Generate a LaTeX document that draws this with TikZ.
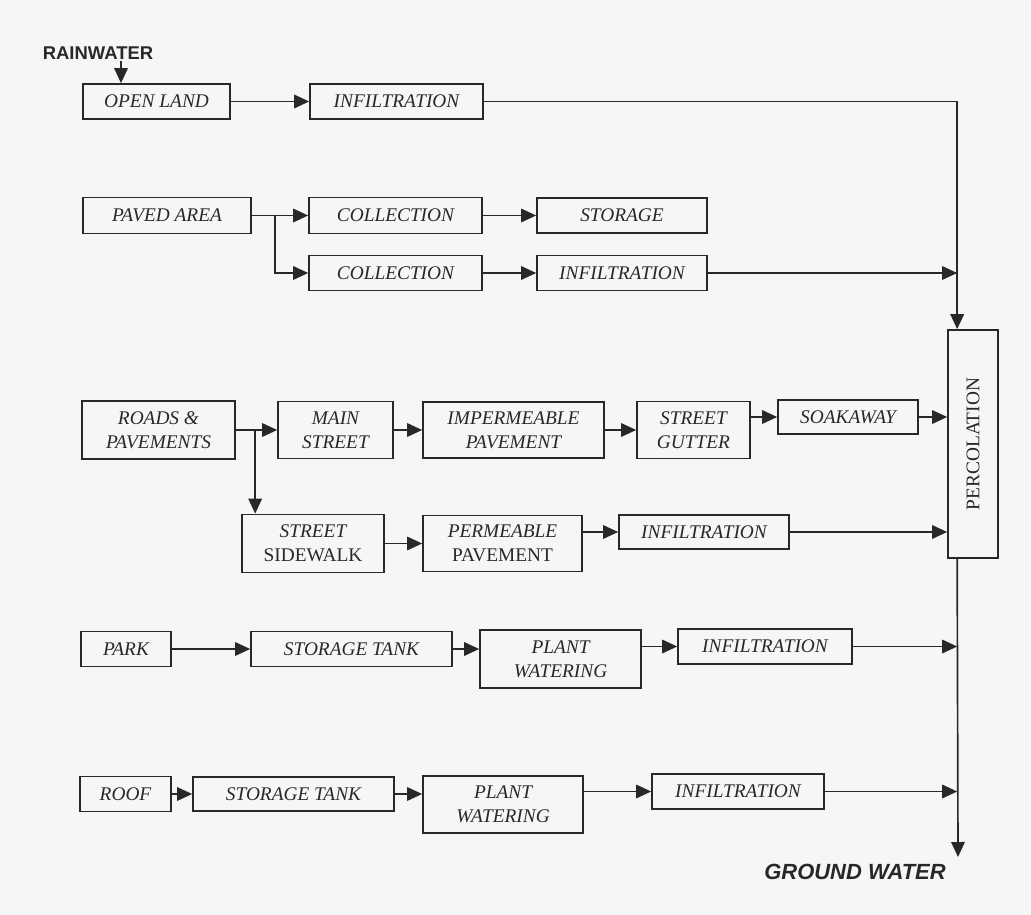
\documentclass[tikz,border=0pt]{standalone}
\usepackage{fontspec}
\setmainfont{Liberation Serif}
\setsansfont{Liberation Sans}
\usetikzlibrary{arrows.meta,calc}
\definecolor{inkgray}{RGB}{40,40,40}
\definecolor{paper}{RGB}{246,245,248}

\tikzset{
  box/.style={draw=inkgray, line width=0.95pt, text=inkgray, align=center, inner sep=1pt,
    font=\fontsize{11}{13.5}\selectfont\itshape},
  sz/.style 2 args={minimum width=#1*0.02cm, minimum height=#2*0.02cm},
  arr/.style={draw=inkgray, line width=0.95pt, -{Triangle[length=0.3cm,width=0.27cm]}},
}

\begin{document}
\begin{tikzpicture}[x=0.02cm, y=-0.02cm]
\fill[paper] (0,0) rectangle (1031,915);

% labels
\node[font=\sffamily\bfseries\fontsize{10.5}{12}\selectfont, text=inkgray, inner sep=1pt] (rain) at (98,53) {RAINWATER};
\node[font=\sffamily\bfseries\itshape\fontsize{12.5}{14}\selectfont, text=inkgray] (gw) at (855,872) {GROUND WATER};

% open land and paved area
\node[box, sz={147}{35}] (open) at (156.5,101.5) {OPEN LAND};
\node[box, sz={173}{35}] (inf1) at (396.5,101.5) {INFILTRATION};
\node[box, sz={168}{36}] (paved) at (167,215.5) {PAVED AREA};
\node[box, sz={173}{36}] (col1) at (395.5,215.5) {COLLECTION};
\node[box, sz={173}{35}] (col2) at (395.5,273) {COLLECTION};
\node[box, sz={170}{35}] (stor) at (622,215.5) {STORAGE};
\node[box, sz={170}{35}] (inf2) at (622,273) {INFILTRATION};

% roads and pavements
\node[box, sz={153}{58}] (roads) at (158.5,430) {ROADS \&\\PAVEMENTS};
\node[box, sz={115}{57}] (main) at (335.5,430) {MAIN\\STREET};
\node[box, sz={181}{56}] (imper) at (513.5,430) {IMPERMEABLE\\PAVEMENT};
\node[box, sz={113}{57}] (gutter) at (693.5,430) {STREET\\GUTTER};
\node[box, sz={140}{34}] (soak) at (848,417) {SOAKAWAY};
\node[box, sz={142}{58}] (side) at (313,543.5) {STREET\\\upshape SIDEWALK};
\node[box, sz={159}{56}] (perm) at (502.5,543.5) {PERMEABLE\\\upshape PAVEMENT};
\node[box, sz={170}{34}] (inf3) at (704,532) {INFILTRATION};

% percolation
\node[box, sz={50}{228}, font=\fontsize{11}{13}\selectfont] (perc) at (973,444) {\rotatebox{90}{PERCOLATION}};

% park and roof
\node[box, sz={90}{35}] (park) at (126,649) {PARK};
\node[box, sz={201}{35}] (tank1) at (351.5,649) {STORAGE TANK};
\node[box, sz={161}{58}] (plant1) at (560.5,659) {PLANT\\WATERING};
\node[box, sz={174}{35}] (inf4) at (765,646.5) {INFILTRATION};
\node[box, sz={91}{35}] (roof) at (125.5,794) {ROOF};
\node[box, sz={201}{34}] (tank2) at (293.5,794) {STORAGE TANK};
\node[box, sz={160}{57}] (plant2) at (503,804.5) {PLANT\\WATERING};
\node[box, sz={172}{35}] (inf5) at (738,791.5) {INFILTRATION};

\coordinate (rainin) at ([xshift=-0.71cm]open.north);
\coordinate (bus) at ([xshift=0.2cm]perc.north west);
\coordinate (busend) at (958,857);

% connectors
\draw[arr] (rain.south -| rainin) -- (rainin);
\draw[arr] (open) -- (inf1);
\draw[arr] (inf1.east) -| (bus);
\draw[arr] (paved) -- (col1);
\draw[arr] ([xshift=-0.66cm]col1.west) |- (col2);
\draw[arr] (col1) -- (stor);
\draw[arr] (col2) -- (inf2);
\draw[arr] (inf2) -- (inf2 -| bus);

\draw[arr] (roads) -- (main);
\draw[arr] ([xshift=-0.44cm]main.west) -- ([xshift=-0.44cm]main.west |- side.north);
\draw[arr] (main) -- (imper);
\draw[arr] (imper) -- (gutter);
\draw[arr] (gutter.east |- soak) -- (soak);
\draw[arr] (soak) -- (soak -| perc.west);
\draw[arr] (side) -- (perm);
\draw[arr] (perm.east |- inf3) -- (inf3);
\draw[arr] (inf3) -- (inf3 -| perc.west);

\draw[arr] (park) -- (tank1);
\draw[arr] (tank1) -- (plant1.west |- tank1);
\draw[arr] (plant1.east |- inf4) -- (inf4);
\draw[arr] (inf4) -- (inf4 -| bus);
\draw[arr] (roof) -- (tank2);
\draw[arr] (tank2) -- (plant2.west |- tank2);
\draw[arr] (plant2.east |- inf5) -- (inf5);
\draw[arr] (inf5) -- (inf5 -| bus);

\draw[arr] (perc.south -| bus) -- (busend);
\end{tikzpicture}
\end{document}
